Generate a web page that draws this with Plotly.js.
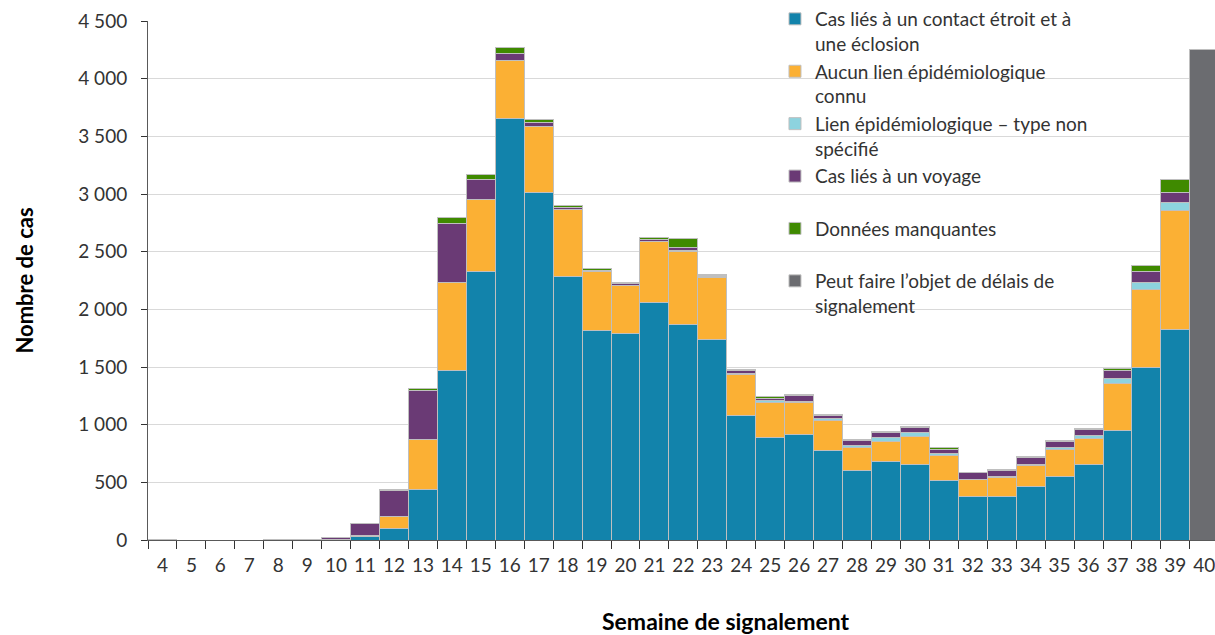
<!DOCTYPE html>
<html><head><meta charset="utf-8">
<script src="https://cdn.plot.ly/plotly-3.0.1.min.js"></script>
<style>html,body{margin:0;padding:0;overflow:hidden;background:#fff}</style>
</head><body>
<div id="chart" style="width:1215px;height:635px"></div>
<script>
const weeks = ["4","5","6","7","8","9","10","11","12","13","14","15","16","17","18","19","20","21","22","23","24","25","26","27","28","29","30","31","32","33","34","35","36","37","38","39","40"];
// Cas liés à un contact étroit et à une éclosion
const contact = [4,0,0,0,3,4,2,32,104,441,1474,2328,3652,3017,2287,1817,1789,2062,1872,1739,1079,889,917,776,606,678,655,519,381,381,465,551,652,946,1494,1823,null];
// Aucun lien épidémiologique connu
const aucun = [0,0,0,0,0,0,0,6,98,430,761,623,502,568,577,511,418,528,632,534,357,305,275,262,199,179,245,217,141,161,181,234,225,410,678,1035,null];
// Lien épidémiologique – type non spécifié
const nonSpec = [0,0,0,0,0,0,0,0,0,0,0,0,0,0,5,0,0,0,10,10,10,12,10,12,12,30,32,14,6,6,8,17,29,40,64,70,null];
// Cas liés à un voyage
const voyage = [0,0,0,0,0,0,18,105,225,427,505,173,66,35,15,12,18,18,24,8,20,25,48,32,45,42,46,35,55,58,64,52,52,78,89,83,null];
// Données manquantes
const manquantes = [0,0,0,0,0,0,0,4,8,17,55,41,49,23,12,11,10,14,73,11,11,9,11,8,9,8,10,18,5,6,6,5,5,16,55,115,null];
// Peut faire l'objet de délais de signalement
const delais = [null,null,null,null,null,null,null,null,null,null,null,null,null,null,null,null,null,null,null,null,null,null,null,null,null,null,null,null,null,null,null,null,null,null,null,null,4250];

const names = ["Cas liés à un contact étroit et à<br>une éclosion","Aucun lien épidémiologique<br>connu","Lien épidémiologique – type non<br>spécifié","Cas liés à un voyage<br> ","Données manquantes<br> ","Peut faire l’objet de délais de<br>signalement"];
const colors = ["#1283AB","#FBB034","#8DD3DF","#6A3A75","#3F8A00","#6B6C70"];
const series = [contact, aucun, nonSpec, voyage, manquantes, delais];

const traces = series.map((s,i)=>({
  type:"bar", x:weeks, y:s, name:names[i],
  marker:{color:colors[i], line:{color:"#BFBFBF", width:1}},
  hoverinfo:"skip"
}));

const font = "Lato, 'Open Sans', sans-serif";
const layout = {
  width:1215, height:635,
  margin:{l:148, r:0, t:20, b:95},
  barmode:"stack", bargap:0,
  separators:", ",
  paper_bgcolor:"#fff", plot_bgcolor:"#fff",
  font:{family:font, color:"#333", size:19},
  showlegend:true,
  legend:{x:0.5876, xanchor:"left", y:1.04, yanchor:"top", traceorder:"normal", valign:"top",
          maxheight:620,
          font:{family:font, size:19, color:"#333"}, bgcolor:"rgba(0,0,0,0)"},
  xaxis:{type:"category", range:[-0.5,36.37], tickson:"boundaries", ticks:"outside", ticklen:8,
         tickcolor:"#333", showline:true, linecolor:"#595959", linewidth:1, showgrid:false,
         tickangle:0, tickfont:{size:19, color:"#333"}, ticklabelstandoff:8, fixedrange:true},
  yaxis:{range:[0,4500], dtick:500, tickformat:",", ticks:"outside", ticklen:6, tickcolor:"#333",
         showline:true, linecolor:"#595959", linewidth:1, gridcolor:"#D9D9D9", gridwidth:1,
         zeroline:false, tickfont:{size:19, color:"#333"}, ticklabelstandoff:10,
         title:{text:"Nombre de cas", font:{size:22, weight:700, color:"#000"}, standoff:38}},
  annotations:[{text:"Semaine de signalement", xref:"paper", yref:"paper", x:0.5417, y:-0.156,
                xanchor:"center", yanchor:"middle", showarrow:false,
                font:{family:font, size:23, weight:700, color:"#000"}}]
};
Plotly.newPlot("chart", traces, layout, {displayModeBar:false, staticPlot:true});
</script>
</body></html>
